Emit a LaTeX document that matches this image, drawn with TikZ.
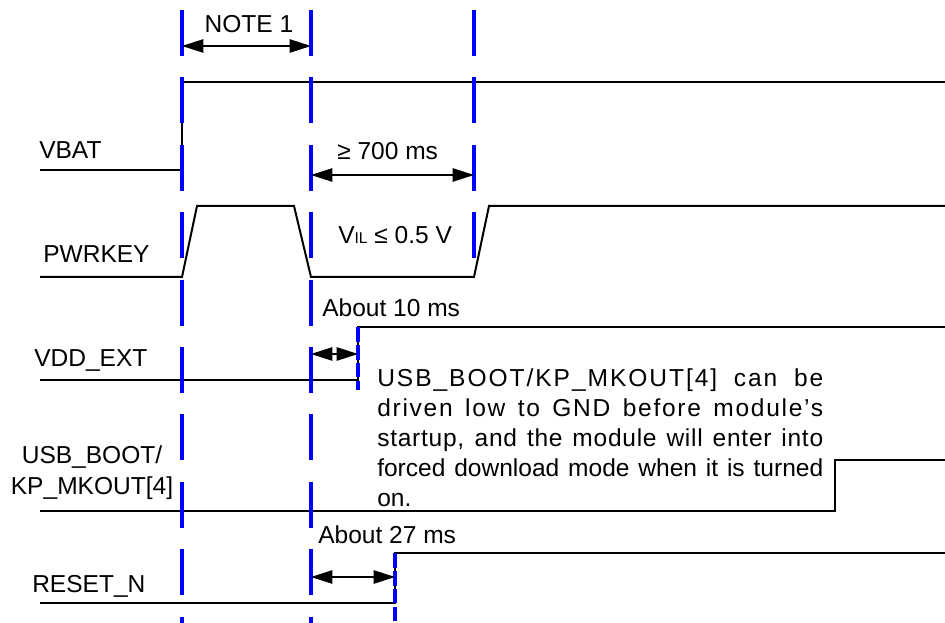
\documentclass[tikz,border=0pt]{standalone}
\usepackage{fontspec}
\setmainfont{Liberation Sans}
\usetikzlibrary{arrows.meta}
\begin{document}
\begin{tikzpicture}[x=0.75pt,y=-0.75pt,
  sig/.style={line width=1.5pt, line join=miter},
  gridline/.style={blue, line width=2.3pt, dash pattern=on 34.5pt off 16.05pt},
  fineline/.style={blue, line width=2.3pt, dash pattern=on 11pt off 2.4pt},
  dim/.style={line width=1.2pt, {Triangle[length=16pt,width=10pt]}-{Triangle[length=16pt,width=10pt]}},
  lbl/.style={inner sep=0pt, anchor=base west, font=\fontsize{18.4pt}{22pt}\selectfont},
  clbl/.style={lbl, anchor=base}
]
\useasboundingbox[fill=white] (0,0) rectangle (945,623);

% signals
\draw[sig] (40,170) -- (182,170) -- (182,82) -- (945,82);
\draw[sig] (40,277) -- (182,277) -- (197,206) -- (294,206) -- (311,277) -- (474,277) -- (489,206) -- (945,206);
\draw[sig] (40,380) -- (358,380) -- (358,327) -- (945,327);
\draw[sig] (40,511) -- (835,511) -- (835,460) -- (945,460);
\draw[sig] (40,603) -- (395,603) -- (395,553) -- (945,553);

% blue marker lines
\draw[gridline] (182,10) -- (182,623);
\draw[gridline] (311,10) -- (311,623);
\draw[gridline] (474,10) -- (474,258);
\draw[fineline] (358,327) -- (358,390);
\draw[fineline] (395,553) -- (395,623);

% dimension arrows
\coordinate (n1a) at (182,46); \coordinate (n1b) at (311,46);
\coordinate (t7a) at (311,175); \coordinate (t7b) at (474,175);
\coordinate (t10a) at (311,354); \coordinate (t10b) at (358,354);
\coordinate (t27a) at (311,577); \coordinate (t27b) at (395,577);
\draw[dim] (n1a) -- (n1b);
\draw[dim] (t7a) -- (t7b);
\draw[dim] (t10a) -- (t10b);
\draw[dim] (t27a) -- (t27b);

% labels
\node[lbl] (vbat) at (39,159) {VBAT};
\node[lbl] (pwr) at (43,263) {PWRKEY};
\node[lbl] (vdd) at (34,366) {VDD\_EXT};
\node[clbl] (usb1) at (92,463) {USB\_BOOT/};
\node[clbl] (usb2) at (92,494) {KP\_MKOUT[4]};
\node[lbl] (rst) at (32,592) {RESET\_N};

\node[clbl] (note) at (249,33) {NOTE 1};
\node[lbl] (ms700) at (337,160) {≥ 700 ms};
\node[lbl] (vil) at (338,244) {V{\fontsize{11.7pt}{14pt}\selectfont IL} ≤ 0.5 V};
\node[lbl] (ms10) at (322,317) {About 10 ms};
\node[lbl] (ms27) at (318,543) {About 27 ms};

\node[lbl] (nt1) at (377,386) {\makebox[334.5pt][s]{\addfontfeature{LetterSpace=8}USB\_BOOT/KP\_MKOUT[4] can be}};
\node[lbl] (nt2) at (377,416.2) {\makebox[334.5pt][s]{\addfontfeature{LetterSpace=7}driven low to GND before module’s}};
\node[lbl] (nt3) at (377,446.4) {\makebox[334.5pt][s]{\addfontfeature{LetterSpace=3}startup, and the module will enter into}};
\node[lbl] (nt4) at (377,476.6) {\makebox[334.5pt][s]{forced download mode when it is turned}};
\node[lbl] (nt5) at (377,506.8) {on.};
\end{tikzpicture}
\end{document}
